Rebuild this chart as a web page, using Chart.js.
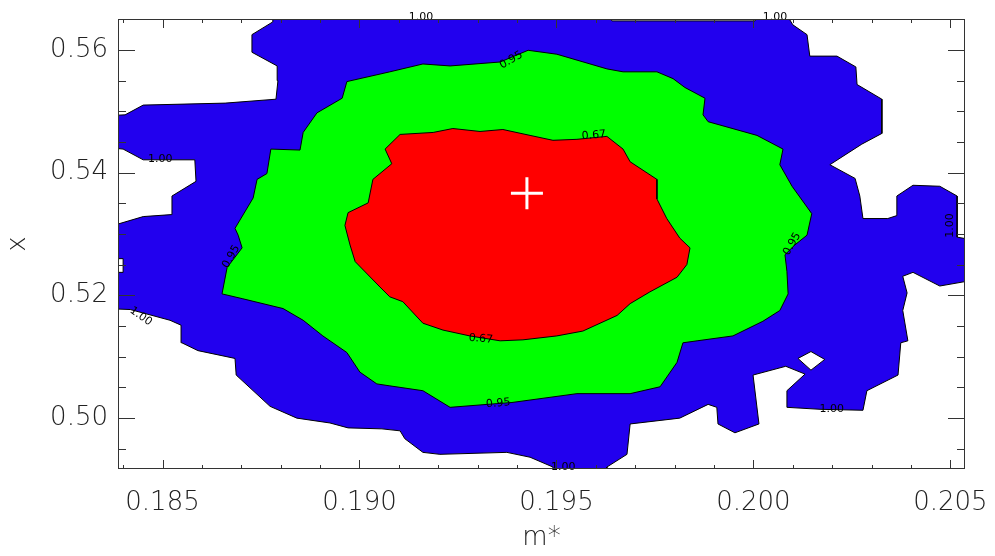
<!DOCTYPE html>
<html>
<head>
<meta charset="utf-8">
<script src="https://cdn.jsdelivr.net/npm/chart.js@4/dist/chart.umd.min.js"></script>
<style>
  html, body { margin: 0; padding: 0; background: #fff; }
  #wrap { width: 995px; height: 556px; }
</style>
</head>
<body>
<div id="wrap"><canvas id="c" width="995" height="556"></canvas></div>
<script>
// Axis ranges and tick values (m* horizontally, x vertically)
const xRange = [0.18387, 0.20537];
const yRange = [0.49171, 0.56505];
const xTickValues = [0.185, 0.190, 0.195, 0.200, 0.205];
const yTickValues = [0.50, 0.52, 0.54, 0.56];
const xMinorStep = 0.001;
const yMinorStep = 0.005;

// Best-fit point
const bestFit = [0.19425, 0.53667];

// Confidence-level contours as closed outlines of [m*, x]
const level067 = [
  [0.19103,0.54624],[0.19187,0.54656],[0.19237,0.54720],[0.19306,0.54672],[0.19364,0.54704],
  [0.19433,0.54608],[0.19491,0.54528],[0.19552,0.54544],[0.19628,0.54592],[0.19669,0.54385],
  [0.19687,0.54178],[0.19755,0.53891],[0.19755,0.53572],[0.19780,0.53253],[0.19813,0.52934],
  [0.19839,0.52775],[0.19831,0.52503],[0.19806,0.52296],[0.19737,0.52057],[0.19687,0.51866],
  [0.19654,0.51674],[0.19567,0.51419],[0.19501,0.51340],[0.19415,0.51276],[0.19357,0.51260],
  [0.19280,0.51340],[0.19212,0.51435],[0.19161,0.51547],[0.19110,0.51898],[0.19077,0.51977],
  [0.19052,0.52137],[0.18989,0.52551],[0.18976,0.52822],[0.18963,0.53141],[0.18971,0.53349],
  [0.19022,0.53508],[0.19034,0.53891],[0.19082,0.54146],[0.19065,0.54385],[0.19103,0.54624]
];

const level095 = [
  [0.18968,0.55485],[0.19077,0.55644],[0.19161,0.55772],[0.19230,0.55740],[0.19357,0.55804],
  [0.19428,0.55995],[0.19501,0.55931],[0.19628,0.55692],[0.19669,0.55644],[0.19755,0.55644],
  [0.19796,0.55533],[0.19826,0.55389],[0.19877,0.55214],[0.19872,0.54943],[0.19885,0.54831],
  [0.20009,0.54608],[0.20075,0.54385],[0.20067,0.54130],[0.20098,0.53779],[0.20148,0.53333],
  [0.20136,0.52982],[0.20105,0.52822],[0.20080,0.52663],[0.20085,0.52392],[0.20088,0.52025],
  [0.20067,0.51754],[0.20024,0.51579],[0.19948,0.51340],[0.19857,0.51260],[0.19821,0.51228],
  [0.19806,0.50909],[0.19763,0.50511],[0.19687,0.50399],[0.19552,0.50399],[0.19387,0.50255],
  [0.19324,0.50224],[0.19230,0.50176],[0.19161,0.50447],[0.19077,0.50526],[0.19044,0.50558],
  [0.19001,0.50750],[0.18968,0.51069],[0.18907,0.51340],[0.18857,0.51595],[0.18806,0.51786],
  [0.18704,0.51945],[0.18651,0.52025],[0.18664,0.52456],[0.18702,0.52775],[0.18692,0.52982],
  [0.18684,0.53093],[0.18730,0.53588],[0.18740,0.53891],[0.18765,0.53986],[0.18775,0.54385],
  [0.18849,0.54369],[0.18857,0.54656],[0.18892,0.54975],[0.18956,0.55214],[0.18968,0.55485]
];

// Outer level runs past the frame on several sides; the plot area clips it
const level100 = [
  [0.18780,0.5660],[0.19623,0.5660],[0.19641,0.56474],[0.20004,0.56474],[0.20017,0.5660],
  [0.20082,0.5660],[0.20100,0.56410],[0.20136,0.56250],[0.20143,0.55900],[0.20212,0.55900],
  [0.20260,0.55724],[0.20263,0.55437],[0.20326,0.55198],[0.20326,0.54640],[0.20275,0.54465],
  [0.20194,0.54130],[0.20258,0.53907],[0.20270,0.53620],[0.20278,0.53253],[0.20341,0.53253],
  [0.20364,0.53301],[0.20364,0.53620],[0.20405,0.53795],[0.20473,0.53779],[0.20517,0.53620],
  [0.20517,0.52950],[0.2060,0.52854],[0.2060,0.52296],[0.20473,0.52153],[0.20405,0.52376],
  [0.20379,0.52312],[0.20390,0.52041],[0.20379,0.51754],[0.20392,0.51260],[0.20374,0.51228],
  [0.20367,0.50702],[0.20288,0.50447],[0.20278,0.50128],[0.20169,0.50144],[0.20085,0.50176],
  [0.20085,0.50447],[0.20131,0.50718],[0.20082,0.50845],[0.19999,0.50702],[0.20014,0.49905],
  [0.19953,0.49761],[0.19910,0.49905],[0.19907,0.50176],[0.19885,0.50224],[0.19813,0.50000],
  [0.19687,0.49905],[0.19679,0.49410],[0.19628,0.49203],[0.19628,0.4900],[0.19491,0.4900],
  [0.19491,0.49203],[0.19433,0.49363],[0.19374,0.49442],[0.19204,0.49410],[0.19161,0.49442],
  [0.19115,0.49665],[0.19103,0.49793],[0.19057,0.49825],[0.18971,0.49841],[0.18925,0.49921],
  [0.18841,0.50000],[0.18773,0.50192],[0.18687,0.50702],[0.18684,0.50973],[0.18590,0.51100],
  [0.18549,0.51228],[0.18547,0.51515],[0.18519,0.51595],[0.18418,0.51770],[0.1835,0.51786],
  [0.1835,0.52376],[0.18400,0.52376],[0.18400,0.52599],[0.1835,0.52599],[0.1835,0.53093],
  [0.18451,0.53285],[0.18522,0.53317],[0.18524,0.53620],[0.18585,0.53859],[0.18582,0.54210],
  [0.18451,0.54210],[0.18400,0.54385],[0.1835,0.54417],[0.1835,0.54927],[0.18405,0.54943],
  [0.18451,0.55102],[0.18659,0.55134],[0.18788,0.55198],[0.18793,0.55501],[0.18791,0.55740],
  [0.18727,0.55963],[0.18727,0.56250],[0.18780,0.56458],[0.18780,0.5660]
];

// Small island outside the 1.00 level
const level100Hole = [
  [0.20113,0.50973],[0.20146,0.51085],[0.20181,0.50957],[0.20146,0.50782],[0.20113,0.50973]
];

// Contour annotations: text, m*, x
const contourLabels = [
  ['1.00', 0.19156, 0.56537], ['1.00', 0.20055, 0.56537], ['0.95', 0.19385, 0.55836],
  ['0.67', 0.19595, 0.54608], ['1.00', 0.18494, 0.54225], ['0.95', 0.18674, 0.52631],
  ['1.00', 0.18445, 0.51658], ['0.67', 0.19308, 0.51292], ['0.95', 0.19352, 0.50240],
  ['1.00', 0.19517, 0.49203], ['1.00', 0.20199, 0.50144], ['0.95', 0.20098, 0.52838],
  ['1.00', 0.20499, 0.53141]
];
const contourLabelAngles = [0, 0, -30, -5, 0, -60, 35, 5, -5, 0, 0, -60, -90];

const FONT = 'DejaVu Sans';
const INK = '#222';

function region(points, color, order) {
  return {
    data: points.map(p => ({ x: p[0], y: p[1] })),
    showLine: true,
    fill: 'shape',
    backgroundColor: color,
    borderColor: '#000',
    borderWidth: 1,
    pointRadius: 0,
    pointHoverRadius: 0,
    tension: 0,
    order
  };
}

// Inward tick marks on all four sides, the frame and the contour labels
const frameAndLabels = {
  id: 'frameAndLabels',
  afterDatasetsDraw(chart) {
    const { ctx, chartArea: a, scales: { x, y } } = chart;
    ctx.save();

    ctx.fillStyle = '#000';
    ctx.font = '11px "' + FONT + '"';
    ctx.textAlign = 'center';
    ctx.textBaseline = 'middle';
    contourLabels.forEach((l, i) => {
      ctx.save();
      ctx.translate(x.getPixelForValue(l[1]), y.getPixelForValue(l[2]));
      ctx.rotate(contourLabelAngles[i] * Math.PI / 180);
      ctx.fillText(l[0], 0, 0);
      ctx.restore();
    });

    ctx.strokeStyle = '#333';
    ctx.lineWidth = 1;
    ctx.beginPath();
    const k0x = Math.ceil(xRange[0] / xMinorStep - 1e-6);
    for (let k = k0x; k * xMinorStep <= xRange[1] + 1e-9; k++) {
      const v = k * xMinorStep;
      const major = xTickValues.some(t => Math.abs(t - v) < xMinorStep / 10);
      const len = major ? 9 : 4;
      const px = Math.round(x.getPixelForValue(v)) + 0.5;
      ctx.moveTo(px, a.bottom); ctx.lineTo(px, a.bottom - len);
      ctx.moveTo(px, a.top); ctx.lineTo(px, a.top + len);
    }
    const k0y = Math.ceil(yRange[0] / yMinorStep - 1e-6);
    for (let k = k0y; k * yMinorStep <= yRange[1] + 1e-9; k++) {
      const v = k * yMinorStep;
      const major = yTickValues.some(t => Math.abs(t - v) < yMinorStep / 10);
      const len = major ? 17 : 8;
      const py = Math.round(y.getPixelForValue(v)) + 0.5;
      ctx.moveTo(a.left, py); ctx.lineTo(a.left + len, py);
      ctx.moveTo(a.right, py); ctx.lineTo(a.right - len, py);
    }
    ctx.stroke();
    ctx.strokeRect(a.left + 0.5, a.top + 0.5, a.right - a.left - 1, a.bottom - a.top - 1);
    ctx.restore();
  }
};

new Chart(document.getElementById('c'), {
  type: 'scatter',
  data: {
    datasets: [
      {
        data: [{ x: bestFit[0], y: bestFit[1] }],
        pointStyle: 'cross',
        pointRadius: 16,
        pointHoverRadius: 16,
        borderColor: '#fff',
        borderWidth: 3,
        showLine: false,
        order: 0
      },
      region(level067, '#ff0000', 1),
      region(level095, '#00ff00', 2),
      region(level100Hole, '#ffffff', 3),
      region(level100, '#2200ee', 4)
    ]
  },
  options: {
    responsive: false,
    devicePixelRatio: 1,
    animation: false,
    events: [],
    layout: { padding: { left: 0, right: 30, top: 9, bottom: 0 } },
    plugins: { legend: { display: false }, tooltip: { enabled: false } },
    scales: {
      x: {
        type: 'linear',
        position: 'bottom',
        min: xRange[0],
        max: xRange[1],
        afterBuildTicks: s => { s.ticks = xTickValues.map(v => ({ value: v })); },
        afterFit: s => { s.height = 87; s.paddingLeft = 0; s.paddingRight = 0; },
        grid: { display: false, drawTicks: false },
        border: { display: false },
        ticks: {
          padding: 19, color: INK, autoSkip: false, maxRotation: 0,
          font: { family: FONT, size: 26, weight: '200' },
          callback: v => v.toFixed(3)
        },
        title: {
          display: true, text: 'm*', color: INK,
          font: { family: FONT, size: 26, weight: '200' },
          padding: { top: 0, bottom: 2 }
        }
      },
      y: {
        type: 'linear',
        position: 'left',
        min: yRange[0],
        max: yRange[1],
        afterBuildTicks: s => { s.ticks = yTickValues.map(v => ({ value: v })); },
        afterFit: s => { s.width = 118; s.paddingTop = 0; s.paddingBottom = 0; },
        grid: { display: false, drawTicks: false },
        border: { display: false },
        ticks: {
          padding: 10, color: INK, autoSkip: false,
          font: { family: FONT, size: 26, weight: '200' },
          callback: v => v.toFixed(2)
        },
        title: {
          display: true, text: 'x', color: INK,
          font: { family: FONT, size: 26, weight: '200' },
          padding: { top: 3, bottom: 0 }
        }
      }
    }
  },
  plugins: [frameAndLabels]
});
</script>
</body>
</html>
